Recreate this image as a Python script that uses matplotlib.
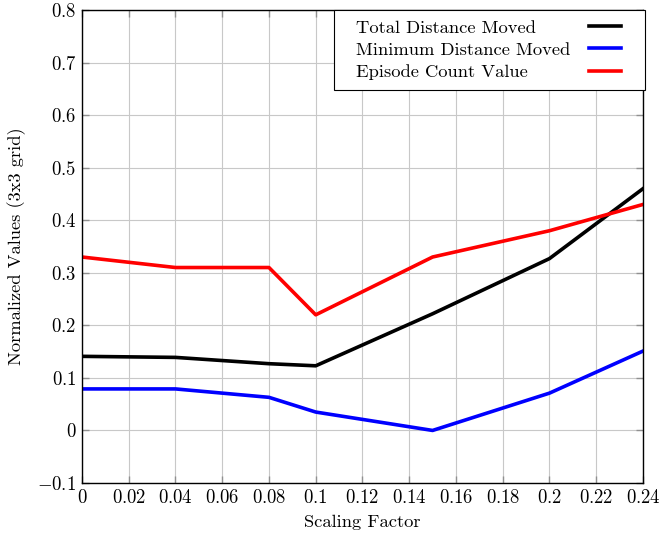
import matplotlib
matplotlib.use("Agg")
import matplotlib.pyplot as plt
from matplotlib.offsetbox import DrawingArea, HPacker

plt.rcParams['font.family'] = 'serif'
plt.rcParams['font.serif'] = ['cmr10']
plt.rcParams['mathtext.fontset'] = 'cm'
plt.rcParams['axes.formatter.use_mathtext'] = True

scaling = [0, 0.04, 0.08, 0.1, 0.15, 0.2, 0.24]
total_dist = [0.141, 0.139, 0.127, 0.123, 0.222, 0.327, 0.460]
min_dist = [0.079, 0.079, 0.063, 0.035, 0.0, 0.071, 0.151]
episode_count = [0.33, 0.31, 0.31, 0.22, 0.33, 0.38, 0.43]

xticks = [0, 0.02, 0.04, 0.06, 0.08, 0.1, 0.12, 0.14, 0.16, 0.18, 0.2, 0.22, 0.24]
xticklabels = ['0', '0.02', '0.04', '0.06', '0.08', '0.1', '0.12', '0.14', '0.16', '0.18', '0.2', '0.22', '0.24']
yticks = [-0.1, 0, 0.1, 0.2, 0.3, 0.4, 0.5, 0.6, 0.7, 0.8]
yticklabels = ['-0.1', '0', '0.1', '0.2', '0.3', '0.4', '0.5', '0.6', '0.7', '0.8']

fig = plt.figure(figsize=(6.6, 5.35), dpi=100)
ax = fig.add_axes([0.1242, 0.0972, 0.85, 0.8841])

ax.plot(scaling, total_dist, color='black', lw=2.6, label='Total Distance Moved')
ax.plot(scaling, min_dist, color='blue', lw=2.6, label='Minimum Distance Moved')
ax.plot(scaling, episode_count, color='red', lw=2.6, label='Episode Count Value')

ax.set_xlim(0, 0.24)
ax.set_ylim(-0.1, 0.8)
ax.set_xticks(xticks)
ax.set_xticklabels(['$%s$' % t for t in xticklabels])
ax.set_yticks(yticks)
ax.set_yticklabels(['$%s$' % t for t in yticklabels])
ax.tick_params(direction='in', top=True, right=True, labelsize=13.5, length=5,
               width=1.0, color='#909090', pad=4)
ax.grid(True, color='#c8c8c8', lw=0.8)
ax.set_axisbelow(True)
for s in ax.spines.values():
    s.set_linewidth(1.0)

ax.set_xlabel('Scaling Factor', fontsize=13.3, labelpad=6)
ax.set_ylabel('Normalized Values (3x3 grid)', fontsize=13.3, labelpad=8)

leg = ax.legend(loc='upper right', markerfirst=False, fontsize=13.3, fancybox=False,
                framealpha=1, edgecolor='black', handlelength=1.7, borderaxespad=0.0,
                borderpad=0.55, labelspacing=0.34, handletextpad=2.0,
                bbox_to_anchor=(1.003, 1.001))
leg.get_frame().set_linewidth(0.8)

# text on the left, line sample pushed to the right edge, extra side margin
col = leg._legend_handle_box.get_children()[0]
col.align = 'left'
col.width = 290
for row in col.get_children():
    t, h = row.get_children()
    row._children = [HPacker(pad=0, sep=0, children=[DrawingArea(8, 1), t], align='baseline'),
                     HPacker(pad=0, sep=0, children=[h, DrawingArea(10, 1)], align='baseline')]
    row.mode = 'expand'

plt.savefig('out.png', dpi=100)
